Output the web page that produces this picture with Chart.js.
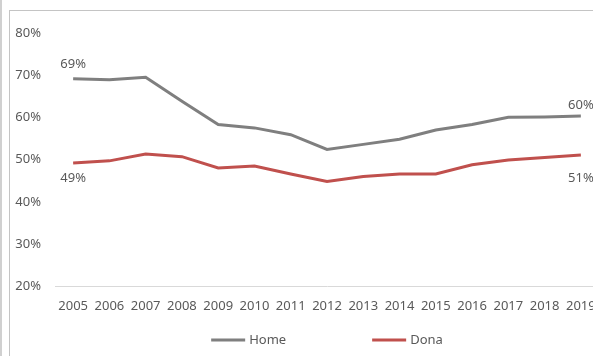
<!DOCTYPE html>
<html>
<head>
<meta charset="utf-8">
<script src="https://cdn.jsdelivr.net/npm/chart.js@4/dist/chart.umd.min.js"></script>
<style>
  html, body { margin: 0; padding: 0; background: #fff; overflow: hidden; width: 593px; height: 356px; }
  .edge { position: absolute; left: 0; top: 0; width: 2px; height: 356px; background: #d0d0d0; }
  .frame { position: absolute; left: 9px; top: 10px; width: 700px; height: 400px; border-left: 1px solid #c4c4c4; border-top: 1px solid #c4c4c4; }
  .wrap { position: absolute; left: 10px; top: 11px; width: 634px; height: 345px; }
</style>
</head>
<body>
<div class="edge"></div>
<div class="frame"></div>
<div class="wrap"><canvas id="lineChart"></canvas></div>
<script>
const years = ['2005', '2006', '2007', '2008', '2009', '2010', '2011', '2012', '2013', '2014', '2015', '2016', '2017', '2018', '2019'];
const homeValues = [69.1, 68.9, 69.5, 63.8, 58.3, 57.5, 55.9, 52.4, 53.6, 54.8, 57.0, 58.3, 60.0, 60.1, 60.3];
const donaValues = [49.2, 49.7, 51.3, 50.7, 48.0, 48.5, 46.6, 44.8, 46.0, 46.6, 46.6, 48.8, 49.9, 50.5, 51.1];
const seriesNames = ['Home', 'Dona'];
const yTicks = [20, 30, 40, 50, 60, 70, 80];

// which points get a value label, and how far above/below the point
const pointLabels = [
  { ds: 0, idx: 0, dy: -15 },
  { ds: 0, idx: 14, dy: -11 },
  { ds: 1, idx: 0, dy: 15 },
  { ds: 1, idx: 14, dy: 23 }
];

const textColor = '#595959';
const fontFamily = '"Noto Sans", sans-serif';

// value labels at the first/last points
const valueLabels = {
  id: 'valueLabels',
  afterDatasetsDraw(chart) {
    const ctx = chart.ctx;
    ctx.save();
    ctx.font = '13px ' + fontFamily;
    ctx.fillStyle = textColor;
    ctx.textAlign = 'center';
    ctx.textBaseline = 'middle';
    pointLabels.forEach(p => {
      const pt = chart.getDatasetMeta(p.ds).data[p.idx];
      const v = chart.data.datasets[p.ds].data[p.idx];
      ctx.fillText(Math.round(v) + '%', pt.x, pt.y + p.dy);
    });
    ctx.restore();
  }
};

// legend like the spreadsheet one: short thick line + name
const lineLegend = {
  id: 'lineLegend',
  afterDraw(chart) {
    const ctx = chart.ctx;
    const lineW = 34, gap = 4, spacing = 86;
    ctx.save();
    ctx.font = '13px ' + fontFamily;
    ctx.textBaseline = 'middle';
    const items = chart.data.datasets.map(ds => ({
      ds, w: lineW + gap + ctx.measureText(ds.label).width
    }));
    const total = items.reduce((s, it) => s + it.w, 0) + spacing * (items.length - 1);
    let x = chart.width / 2 - total / 2;
    const y = 329;
    items.forEach(it => {
      ctx.strokeStyle = it.ds.borderColor;
      ctx.lineWidth = 3;
      ctx.beginPath();
      ctx.moveTo(x, y);
      ctx.lineTo(x + lineW, y);
      ctx.stroke();
      ctx.fillStyle = textColor;
      ctx.fillText(it.ds.label, x + lineW + gap, y);
      x += it.w + spacing;
    });
    ctx.restore();
  }
};

const ctx = document.getElementById('lineChart').getContext('2d');
new Chart(ctx, {
  type: 'line',
  data: {
    labels: years,
    datasets: [
      {
        label: seriesNames[0],
        data: homeValues,
        borderColor: '#7f7f7f',
        backgroundColor: '#7f7f7f',
        borderWidth: 3,
        pointRadius: 0,
        tension: 0
      },
      {
        label: seriesNames[1],
        data: donaValues,
        borderColor: '#c0504d',
        backgroundColor: '#c0504d',
        borderWidth: 3,
        pointRadius: 0,
        tension: 0
      }
    ]
  },
  options: {
    responsive: true,
    maintainAspectRatio: false,
    animation: false,
    layout: { padding: { top: 19, right: 45, bottom: 30, left: 0 } },
    plugins: {
      legend: { display: false },
      tooltip: { enabled: false }
    },
    scales: {
      x: {
        offset: true,
        grid: { display: false, drawTicks: false },
        border: { display: true, color: '#d9d9d9', width: 1 },
        ticks: {
          color: textColor,
          font: { family: fontFamily, size: 13 },
          padding: 12,
          maxRotation: 0,
          autoSkip: false
        }
      },
      y: {
        min: yTicks[0],
        max: yTicks[yTicks.length - 1],
        afterBuildTicks: scale => { scale.ticks = yTicks.map(v => ({ value: v })); },
        afterFit: scale => { scale.width = 45; },
        grid: { display: false, drawTicks: false },
        border: { display: false },
        ticks: {
          color: textColor,
          font: { family: fontFamily, size: 13 },
          padding: 14,
          callback: v => v + '%'
        }
      }
    }
  },
  plugins: [valueLabels, lineLegend]
});
</script>
</body>
</html>
